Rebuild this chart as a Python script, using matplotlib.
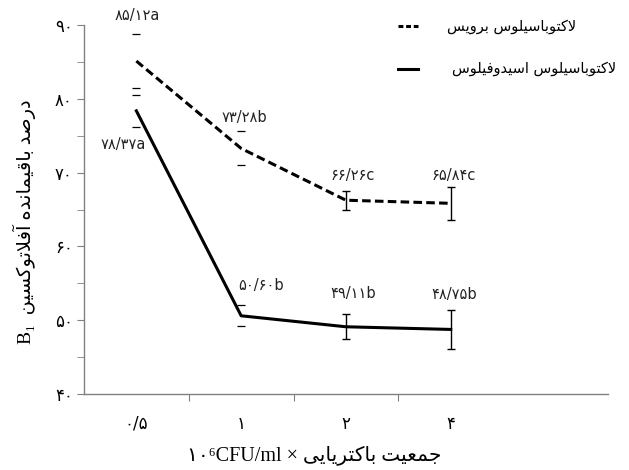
import numpy as np
import matplotlib
matplotlib.use('Agg')
import matplotlib.pyplot as plt
from matplotlib.lines import Line2D

# data
doses = ['۰/۵', '۱', '۲', '۴']
brevis = [85.12, 73.28, 66.26, 65.84]
brevis_err = [3.7, 2.3, 1.3, 2.2]
brevis_grp = ['a', 'b', 'c', 'c']
acido = [78.37, 50.60, 49.11, 48.75]
acido_err = [2.2, 1.4, 1.7, 2.6]
acido_grp = ['a', 'b', 'b', 'b']

# simple arabic/persian shaping (matplotlib has no shaping of its own)
AR_FORMS = {
    'ا': ('\uFE8D', '\uFE8E', None, None),
    'آ': ('\uFE81', '\uFE82', None, None),
    'د': ('\uFEA9', '\uFEAA', None, None),
    'ر': ('\uFEAD', '\uFEAE', None, None),
    'و': ('\uFEED', '\uFEEE', None, None),
    'ب': ('\uFE8F', '\uFE90', '\uFE91', '\uFE92'),
    'ت': ('\uFE95', '\uFE96', '\uFE97', '\uFE98'),
    'ج': ('\uFE9D', '\uFE9E', '\uFE9F', '\uFEA0'),
    'س': ('\uFEB1', '\uFEB2', '\uFEB3', '\uFEB4'),
    'ص': ('\uFEB9', '\uFEBA', '\uFEBB', '\uFEBC'),
    'ع': ('\uFEC9', '\uFECA', '\uFECB', '\uFECC'),
    'ف': ('\uFED1', '\uFED2', '\uFED3', '\uFED4'),
    'ق': ('\uFED5', '\uFED6', '\uFED7', '\uFED8'),
    'ل': ('\uFEDD', '\uFEDE', '\uFEDF', '\uFEE0'),
    'م': ('\uFEE1', '\uFEE2', '\uFEE3', '\uFEE4'),
    'ن': ('\uFEE5', '\uFEE6', '\uFEE7', '\uFEE8'),
    'ه': ('\uFEE9', '\uFEEA', '\uFEEB', '\uFEEC'),
    'ک': ('\uFB8E', '\uFB8F', '\uFB90', '\uFB91'),
    'ی': ('\uFBFC', '\uFBFD', '\uFBFE', '\uFBFF'),
}
LAM_ALEF = {'ا': ('\uFEFB', '\uFEFC'), 'آ': ('\uFEF5', '\uFEF6')}


def joins_fwd(c):
    return c in AR_FORMS and AR_FORMS[c][2] is not None


def rtl(text):
    out = []
    prev = None
    i = 0
    while i < len(text):
        c = text[i]
        if c not in AR_FORMS:
            out.append(c)
            prev = None
            i += 1
            continue
        nxt = text[i + 1] if i + 1 < len(text) else None
        link_prev = prev is not None and joins_fwd(prev)
        if c == 'ل' and nxt in LAM_ALEF:
            out.append(LAM_ALEF[nxt][1] if link_prev else LAM_ALEF[nxt][0])
            prev = nxt
            i += 2
            continue
        link_next = joins_fwd(c) and nxt in AR_FORMS
        iso, fin, ini, med = AR_FORMS[c]
        if link_prev and link_next:
            g = med
        elif link_prev:
            g = fin
        elif link_next:
            g = ini
        else:
            g = iso
        out.append(g)
        prev = c
        i += 1
    return ''.join(reversed(out))


FA = str.maketrans('0123456789', '۰۱۲۳۴۵۶۷۸۹')


def fa_label(v, g):
    return ('%.2f' % v).replace('.', '/').translate(FA) + g


plt.rcParams['font.family'] = ['DejaVu Sans']
fig = plt.figure(figsize=(6.29, 4.70), dpi=100)
ax = fig.add_axes([0.1335, 0.1617, 0.833, 0.785])

x = np.arange(len(doses)) + 0.5
lw = 2.2
ax.plot(x, brevis, color='black', lw=lw, ls=(0, (2.8, 1.4)), label=rtl('لاکتوباسیلوس برویس'))
ax.plot(x, acido, color='black', lw=lw, label=rtl('لاکتوباسیلوس اسیدوفیلوس'))

# first two points show only the caps, the rest full bars
for vals, errs in [(brevis, brevis_err), (acido, acido_err)]:
    ax.errorbar(x[:2], vals[:2], yerr=errs[:2], fmt='none', ecolor='black',
                elinewidth=0, capsize=3, capthick=0.9)
    ax.errorbar(x[2:], vals[2:], yerr=errs[2:], fmt='none', ecolor='black',
                elinewidth=1.0, capsize=3, capthick=1.0)

# labels above points (pixel offsets)
b_off = [(1, 46), (3, 31), (7, 25), (3, 28)]
a_off = [(-13, -34), (20, 30), (7, 33), (3, 35)]
for i in range(len(x)):
    ax.annotate(fa_label(brevis[i], brevis_grp[i]), (x[i], brevis[i]),
                xytext=b_off[i], textcoords='offset pixels', ha='center', va='center',
                fontsize=10.5, color='#222222', annotation_clip=False)
    ax.annotate(fa_label(acido[i], acido_grp[i]), (x[i], acido[i]),
                xytext=a_off[i], textcoords='offset pixels', ha='center', va='center',
                fontsize=10.5, color='#222222', annotation_clip=False)

ax.set_xlim(0, 5)
ax.set_ylim(40, 90)
ax.set_xticks([1, 2, 3])
ax.set_xticklabels([])
ax.set_xticks(x, minor=True)
ax.set_xticklabels(doses, minor=True)
ax.tick_params(axis='x', which='major', length=5, color='#808080', direction='out')
ax.tick_params(axis='x', which='minor', length=0, pad=15, labelsize=12)
ax.set_yticks(np.arange(40, 91, 10))
ax.set_yticklabels([str(v).translate(FA) for v in range(40, 91, 10)])
ax.set_yticks(np.arange(45, 90, 10), minor=True)
ax.tick_params(axis='y', which='both', length=5, color='#808080', direction='out', labelsize=12, pad=3)
for s in ['top', 'right']:
    ax.spines[s].set_visible(False)
for s in ['left', 'bottom']:
    ax.spines[s].set_color('#808080')
    ax.spines[s].set_linewidth(1.0)

ax.set_ylabel('B\u2081  ' + rtl('درصد باقیمانده آفلاتوکسین'),
              family=['Liberation Serif', 'DejaVu Sans'], fontsize=14)
ax.yaxis.set_label_coords(-0.092, 0.466)
ax.set_xlabel('۱۰\u2076CFU/ml × ' + rtl('جمعیت باکتریایی'),
              family=['Liberation Serif', 'DejaVu Sans'], fontsize=14.5)
ax.xaxis.set_label_coords(0.44, -0.138)

# legend drawn by hand at the top right
handles = ax.get_lines()[:2]
legend_ls = [(0, (1.6, 0.9)), '-']
ys = [1 - 26 / 470, 1 - 69 / 470]
xs = [447 / 629, 452 / 629]
for h, ls, yy, xx in zip(handles, legend_ls, ys, xs):
    fig.add_artist(Line2D([0.632, 0.665], [yy, yy], color='black', lw=lw,
                          ls=ls, transform=fig.transFigure))
    fig.text(xx, yy, h.get_label(), fontsize=10.5, va='center', ha='left')

fig.savefig('out.png', dpi=100)
